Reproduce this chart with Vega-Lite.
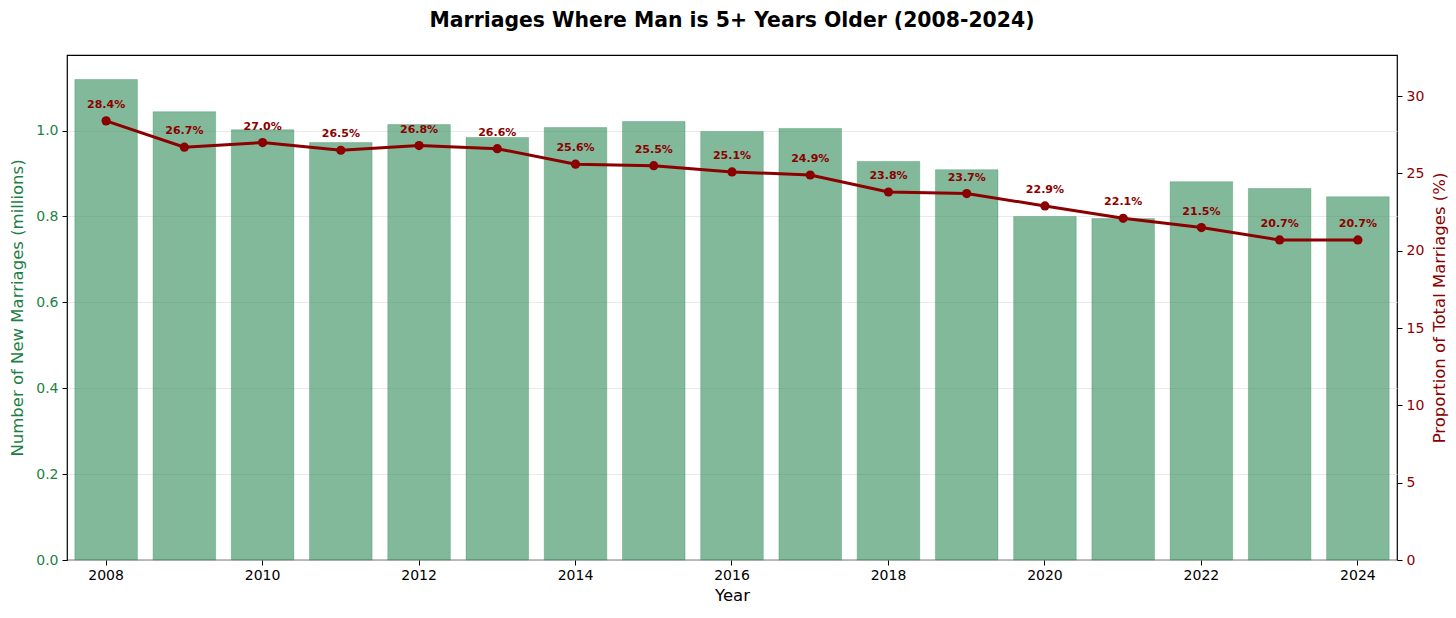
{
  "$schema": "https://vega.github.io/schema/vega-lite/v6.json",
  "width": 1330,
  "height": 505,
  "autosize": {"type": "none"},
  "padding": {"left": 67, "top": 55, "right": 59, "bottom": 58},
  "background": "white",
  "title": {
    "text": "Marriages Where Man is 5+ Years Older (2008-2024)",
    "font": "DejaVu Sans",
    "fontSize": 20.4,
    "fontWeight": "bold",
    "color": "black",
    "anchor": "middle",
    "offset": 24
  },
  "config": {
    "view": {"stroke": "black", "strokeWidth": 1.2},
    "axis": {
      "labelFont": "DejaVu Sans",
      "titleFont": "DejaVu Sans",
      "labelFontSize": 14,
      "titleFontSize": 16.5,
      "titleFontWeight": "normal",
      "tickSize": 5,
      "tickColor": "black",
      "domain": false
    }
  },
  "data": {
    "values": [
      {"year": 2008, "marriages": 1.119, "pct": 28.4, "label": "28.4%"},
      {"year": 2009, "marriages": 1.044, "pct": 26.7, "label": "26.7%"},
      {"year": 2010, "marriages": 1.002, "pct": 27.0, "label": "27.0%"},
      {"year": 2011, "marriages": 0.972, "pct": 26.5, "label": "26.5%"},
      {"year": 2012, "marriages": 1.014, "pct": 26.8, "label": "26.8%"},
      {"year": 2013, "marriages": 0.984, "pct": 26.6, "label": "26.6%"},
      {"year": 2014, "marriages": 1.007, "pct": 25.6, "label": "25.6%"},
      {"year": 2015, "marriages": 1.021, "pct": 25.5, "label": "25.5%"},
      {"year": 2016, "marriages": 0.998, "pct": 25.1, "label": "25.1%"},
      {"year": 2017, "marriages": 1.005, "pct": 24.9, "label": "24.9%"},
      {"year": 2018, "marriages": 0.928, "pct": 23.8, "label": "23.8%"},
      {"year": 2019, "marriages": 0.909, "pct": 23.7, "label": "23.7%"},
      {"year": 2020, "marriages": 0.800, "pct": 22.9, "label": "22.9%"},
      {"year": 2021, "marriages": 0.795, "pct": 22.1, "label": "22.1%"},
      {"year": 2022, "marriages": 0.881, "pct": 21.5, "label": "21.5%"},
      {"year": 2023, "marriages": 0.865, "pct": 20.7, "label": "20.7%"},
      {"year": 2024, "marriages": 0.846, "pct": 20.7, "label": "20.7%"}
    ]
  },
  "encoding": {
    "x": {
      "field": "year",
      "type": "ordinal",
      "scale": {"paddingInner": 0.2, "paddingOuter": 0.1},
      "axis": {
        "title": "Year",
        "titleColor": "black",
        "labelColor": "black",
        "labelAngle": 0,
        "labelFontSize": 14,
        "titleFontSize": 16.5,
        "values": [2008, 2010, 2012, 2014, 2016, 2018, 2020, 2022, 2024],
        "labelPadding": 3,
        "titlePadding": 5
      }
    }
  },
  "layer": [
    {
      "mark": {"type": "bar", "fill": "#2E8B57", "fillOpacity": 0.6, "stroke": "#2E8B57", "strokeOpacity": 0.4, "strokeWidth": 0.8},
      "encoding": {
        "y": {
          "field": "marriages",
          "type": "quantitative",
          "scale": {"domain": [0, 1.176], "nice": false},
          "axis": {
            "title": "Number of New Marriages (millions)",
            "titleColor": "#1E7F46",
            "labelColor": "#1E7F46",
            "labelFontSize": 14,
            "titleFontSize": 16.5,
            "values": [0, 0.2, 0.4, 0.6, 0.8, 1.0],
            "format": ".1f",
            "grid": true,
            "gridColor": "#e4e4e4",
            "gridWidth": 0.8,
            "labelPadding": 4,
            "titlePadding": 10
          }
        }
      }
    },
    {
      "layer": [
        {
          "mark": {"type": "line", "color": "#8B0000", "strokeWidth": 3},
          "encoding": {}
        },
        {
          "mark": {"type": "point", "filled": true, "color": "#8B0000", "size": 85, "opacity": 1},
          "encoding": {}
        },
        {
          "mark": {"type": "text", "color": "#8B0000", "font": "DejaVu Sans", "fontSize": 11, "fontWeight": "bold", "dy": -16},
          "encoding": {"text": {"field": "label"}}
        }
      ],
      "encoding": {
        "y": {
          "field": "pct",
          "type": "quantitative",
          "scale": {"domain": [0, 32.66], "nice": false},
          "axis": {
            "orient": "right",
            "title": "Proportion of Total Marriages (%)",
            "titleColor": "#8B0000",
            "labelColor": "#8B0000",
            "labelFontSize": 14,
            "titleFontSize": 16.5,
            "titleAngle": 270,
            "titleBaseline": "top",
            "values": [0, 5, 10, 15, 20, 25, 30],
            "grid": false,
            "labelPadding": 4,
            "titlePadding": 8
          }
        }
      }
    }
  ],
  "resolve": {"scale": {"y": "independent"}}
}
